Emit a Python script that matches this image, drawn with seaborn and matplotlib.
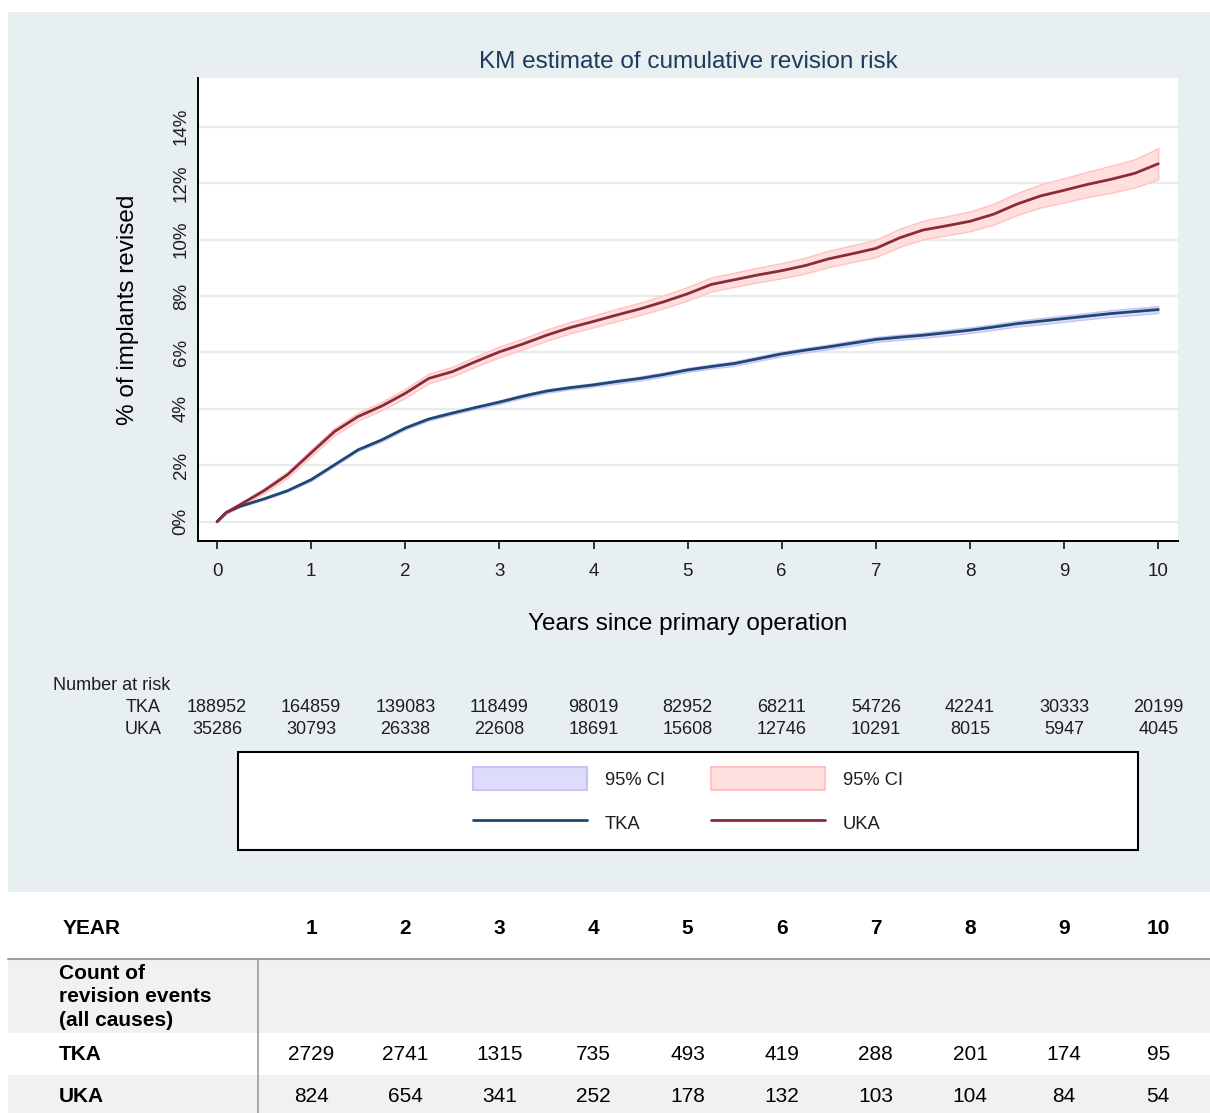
import numpy as np
import pandas as pd
import matplotlib
matplotlib.use("Agg")
import matplotlib.pyplot as plt
import seaborn as sns
from matplotlib.patches import Rectangle, Patch
from matplotlib.lines import Line2D
from matplotlib.transforms import blended_transform_factory

# ---- data -------------------------------------------------------------
years = [0, 0.1, 0.25, 0.5, 0.75, 1.0, 1.25, 1.5, 1.75, 2.0, 2.25, 2.5, 2.75,
         3.0, 3.25, 3.5, 3.75, 4.0, 4.25, 4.5, 4.75, 5.0, 5.25, 5.5, 5.75,
         6.0, 6.25, 6.5, 6.75, 7.0, 7.25, 7.5, 7.75, 8.0, 8.25, 8.5, 8.75,
         9.0, 9.25, 9.5, 9.75, 10.0]

tka_pct = [0, 0.33, 0.55, 0.81, 1.10, 1.49, 2.02, 2.55, 2.90, 3.32, 3.64, 3.85,
           4.05, 4.24, 4.45, 4.63, 4.75, 4.85, 4.97, 5.08, 5.22, 5.38, 5.50,
           5.61, 5.78, 5.95, 6.08, 6.20, 6.33, 6.46, 6.54, 6.61, 6.70, 6.79,
           6.90, 7.02, 7.11, 7.20, 7.29, 7.38, 7.45, 7.52]

uka_pct = [0, 0.33, 0.61, 1.10, 1.67, 2.44, 3.20, 3.73, 4.10, 4.55, 5.08, 5.32,
           5.68, 6.02, 6.30, 6.61, 6.88, 7.10, 7.33, 7.55, 7.80, 8.08, 8.41,
           8.58, 8.75, 8.90, 9.08, 9.32, 9.50, 9.69, 10.06, 10.34, 10.49,
           10.65, 10.90, 11.26, 11.55, 11.75, 11.96, 12.14, 12.35, 12.69]

# half-width of the 95% confidence band
tka_ci_half = [0, 0.02, 0.02, 0.03, 0.03, 0.04, 0.04, 0.04, 0.05, 0.05, 0.05,
               0.05, 0.05, 0.06, 0.06, 0.06, 0.06, 0.06, 0.07, 0.07, 0.07, 0.07,
               0.07, 0.08, 0.08, 0.08, 0.08, 0.08, 0.09, 0.09, 0.09, 0.09, 0.10,
               0.10, 0.10, 0.10, 0.11, 0.11, 0.11, 0.12, 0.12, 0.12]
uka_ci_half = [0, 0.05, 0.07, 0.09, 0.11, 0.12, 0.13, 0.14, 0.15, 0.16, 0.17,
               0.17, 0.18, 0.19, 0.19, 0.20, 0.20, 0.21, 0.22, 0.22, 0.23, 0.24,
               0.25, 0.25, 0.26, 0.27, 0.28, 0.29, 0.30, 0.31, 0.32, 0.33, 0.34,
               0.35, 0.37, 0.39, 0.41, 0.43, 0.45, 0.48, 0.50, 0.55]

risk_years = list(range(0, 11))
tka_at_risk = [188952, 164859, 139083, 118499, 98019, 82952, 68211, 54726,
               42241, 30333, 20199]
uka_at_risk = [35286, 30793, 26338, 22608, 18691, 15608, 12746, 10291, 8015,
               5947, 4045]

table_years = list(range(1, 11))
tka_events = [2729, 2741, 1315, 735, 493, 419, 288, 201, 174, 95]
uka_events = [824, 654, 341, 252, 178, 132, 103, 104, 84, 54]

y_ticks = [0, 2, 4, 6, 8, 10, 12, 14]

# ---- styling ----------------------------------------------------------
sns.set_theme(style="white")
plt.rcParams["font.family"] = ["Liberation Sans", "DejaVu Sans"]

W, H = 1210, 1113
fig = plt.figure(figsize=(W / 100, H / 100), dpi=100)
fig.patch.set_facecolor("white")


def fx(px):
    return px / W


def fy(py):
    return 1 - py / H


PANEL = "#e8eff1"
TKA_LINE = "#1c4873"
UKA_LINE = "#8a2c38"
TKA_FILL = "#dedcfb"
TKA_EDGE = "#c6c4f5"
UKA_FILL = "#ffdede"
UKA_EDGE = "#ffc3c3"
TXT = "#1e1e1e"

# grey-blue panel behind the chart area
fig.add_artist(Rectangle((fx(8), fy(892)), fx(1210 - 8), (892 - 12) / H,
                         transform=fig.transFigure, facecolor=PANEL,
                         edgecolor="none", zorder=0))

ax = fig.add_axes([fx(198), fy(541), fx(1178 - 198), (541 - 78) / H])
ax.set_facecolor("white")

df = pd.DataFrame({
    "years": years + years,
    "pct": tka_pct + uka_pct,
    "group": ["TKA"] * len(years) + ["UKA"] * len(years),
})

t = np.array(years)
for vals, half, fill, edge in [(tka_pct, tka_ci_half, TKA_FILL, TKA_EDGE),
                               (uka_pct, uka_ci_half, UKA_FILL, UKA_EDGE)]:
    v = np.array(vals)
    h = np.array(half)
    ax.fill_between(t, v - h, v + h, facecolor=fill, edgecolor=edge,
                    linewidth=1.0, zorder=2)

sns.lineplot(data=df, x="years", y="pct", hue="group",
             palette={"TKA": TKA_LINE, "UKA": UKA_LINE},
             linewidth=2.0, legend=False, estimator=None, sort=False,
             ax=ax, zorder=3)

ax.set_xlim(-0.202, 10.21)
ax.set_ylim(-0.684, 15.73)
ax.set_xticks(risk_years)
ax.set_yticks(y_ticks)
ax.set_yticklabels([f"{v}%" for v in y_ticks])
ax.set_xlabel("")
ax.set_ylabel("")
ax.grid(axis="y", color="#e4ecee", linewidth=1.6)
ax.grid(axis="x", visible=False)
for side in ("top", "right"):
    ax.spines[side].set_visible(False)
for side in ("left", "bottom"):
    ax.spines[side].set_color("black")
    ax.spines[side].set_linewidth(1.4)
ax.tick_params(axis="x", direction="out", length=6, width=1.1, color="black",
               labelsize=13.5, pad=10, labelcolor=TXT, bottom=True)
ax.tick_params(axis="y", length=0, labelsize=13.5, pad=6,
               labelcolor=TXT, labelrotation=90)
for lab in ax.get_yticklabels():
    lab.set_va("center")

fig.text(fx(688), fy(62), "KM estimate of cumulative revision risk",
         ha="center", va="center", fontsize=17.5, color="#1f3a5c")
fig.text(fx(128), fy(310), "% of implants revised", rotation=90,
         ha="center", va="center", fontsize=17.5, color="black")
fig.text(fx(688), fy(624), "Years since primary operation",
         ha="center", va="center", fontsize=17.5, color="black")

# ---- number at risk ---------------------------------------------------
xb = blended_transform_factory(ax.transData, fig.transFigure)
fig.text(fx(53), fy(685), "Number at risk", ha="left", va="center",
         fontsize=13, color=TXT)
fig.text(fx(161), fy(707), "TKA", ha="right", va="center", fontsize=13,
         color=TXT)
fig.text(fx(162), fy(730), "UKA", ha="right", va="center", fontsize=13,
         color=TXT)
for yr, a, b in zip(risk_years, tka_at_risk, uka_at_risk):
    fig.text(yr, fy(707), f"{a}", transform=xb, ha="center", va="center",
             fontsize=13, color=TXT)
    fig.text(yr, fy(730), f"{b}", transform=xb, ha="center", va="center",
             fontsize=13, color=TXT)

# ---- legend -----------------------------------------------------------
fig.add_artist(Rectangle((fx(238), fy(850)), fx(1138 - 238), (850 - 752) / H,
                         transform=fig.transFigure, facecolor="white",
                         edgecolor="black", linewidth=1.5, zorder=1))
handles = [
    Patch(facecolor=TKA_FILL, edgecolor=TKA_EDGE, linewidth=1.5),
    Line2D([], [], color=TKA_LINE, linewidth=2.0),
    Patch(facecolor=UKA_FILL, edgecolor=UKA_EDGE, linewidth=1.5),
    Line2D([], [], color=UKA_LINE, linewidth=2.0),
]
labels = ["95% CI", "TKA", "95% CI", "UKA"]
leg = fig.legend(handles, labels, ncol=2, loc="center",
                 bbox_to_anchor=(fx(688), fy(801)), frameon=False,
                 fontsize=13.2, handlelength=6.2, handleheight=1.55,
                 labelspacing=1.15, handletextpad=1.0, columnspacing=2.5,
                 borderpad=0)
for txt in leg.get_texts():
    txt.set_color(TXT)
leg.set_zorder(5)

# ---- revision events table -------------------------------------------
BOLD = dict(fontsize=15, fontweight="bold", color="black", va="center")
REG = dict(fontsize=15, color="black", va="center")
ROW_GREY = "#f1f1f1"
RULE = "#9c9c9c"

fig.add_artist(Rectangle((fx(8), fy(1033)), fx(W - 8), (1033 - 960) / H,
                         transform=fig.transFigure, facecolor=ROW_GREY,
                         edgecolor="none", zorder=0))
fig.add_artist(Rectangle((fx(8), fy(1113)), fx(W - 8), (1113 - 1075) / H,
                         transform=fig.transFigure, facecolor=ROW_GREY,
                         edgecolor="none", zorder=0))
fig.add_artist(Line2D([fx(8), 1], [fy(959), fy(959)],
                      transform=fig.transFigure, color=RULE, linewidth=1.5))
fig.add_artist(Line2D([fx(258), fx(258)], [fy(959), 0],
                      transform=fig.transFigure, color=RULE, linewidth=1.2))

fig.text(fx(63), fy(929), "YEAR", ha="left", **BOLD)
fig.text(fx(59), fy(997), "Count of\nrevision events\n(all causes)",
         ha="left", linespacing=1.27, **BOLD)
fig.text(fx(59), fy(1055), "TKA", ha="left", **BOLD)
fig.text(fx(59), fy(1097), "UKA", ha="left", **BOLD)
for yr, a, b in zip(table_years, tka_events, uka_events):
    fig.text(yr, fy(929), f"{yr}", transform=xb, ha="center", **BOLD)
    fig.text(yr, fy(1055), f"{a}", transform=xb, ha="center", **REG)
    fig.text(yr, fy(1097), f"{b}", transform=xb, ha="center", **REG)

fig.savefig("out.png", dpi=100, facecolor="white")
